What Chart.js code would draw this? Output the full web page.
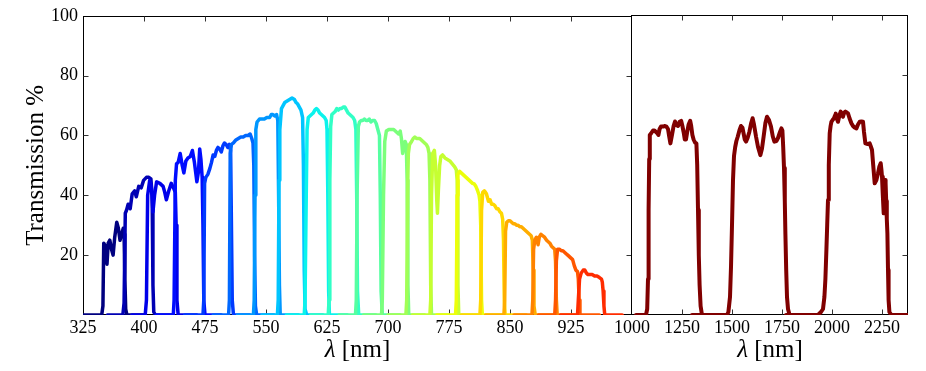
<!DOCTYPE html>
<html lang="en">
<head>
<meta charset="UTF-8">
<title>filters</title>
<script src="https://cdn.jsdelivr.net/npm/chart.js@4.4.0/dist/chart.umd.min.js"></script>
<style>
  body { margin: 0; background: #fff; }
  #wrap { position: relative; width: 926px; height: 371px; }
  canvas { position: absolute; top: 0; }
  #left { left: 0; }
  #right { left: 600px; }
</style>
</head>
<body>
<div id="wrap">
  <canvas id="left" width="650" height="371"></canvas>
  <canvas id="right" width="326" height="371"></canvas>
</div>
<script>
// transmission curves, [wavelength nm, transmission %]
const A366 = [[325,0],[348,0],[349.5,3],[350.5,24],[352.5,23],[354.5,17],[356,24],[358,25],[360,22],[362,20],[364,26],[366.5,31],[368.5,29],[370.5,25],[372.5,27],[374.5,29],[375.5,27],[376.5,12],[377.5,2],[379,0],[400,0]];
const A394 = [[355,0],[374,0],[375.5,4],[377,34],[378.5,35],[380.5,37],[383,35.5],[385.5,40.5],[388.5,41.5],[390.5,39.5],[393.5,43],[396.5,42.5],[399.5,45],[403,46],[406,46],[408.5,45.5],[410,40],[411,10],[412,1],[414,0],[435,0]];
const A425 = [[385,0],[401.5,0],[403,5],[404.5,40],[407,45],[409,43],[411,34.5],[413,40],[415.5,44.5],[419.5,44],[423.5,43],[425.5,41],[427.5,38.5],[430.5,41.5],[433.5,44],[437,42],[438.5,41],[439.5,30],[440.5,5],[442,0],[465,0]];
const A457 = [[415,0],[436,0],[437,5],[438.5,45],[440,50.5],[442,51],[444.5,54],[447,50],[449,47.5],[451.5,51.5],[454,52.5],[457,53],[459.5,55],[462,51],[465,44.5],[467,48],[468.5,55.5],[470,52],[471.5,46],[472.5,30],[473.5,5],[475,0],[495,0]];
const A491 = [[450,0],[472.5,0],[473.5,5],[474.5,44],[476,46],[478.5,47],[481,49],[483,51],[485,53.5],[487,53],[489,55],[491,56],[493,55.5],[495,54.5],[497,56.5],[499,57.5],[501,57],[503,56],[505,57],[506.5,55],[507.5,30],[508.5,5],[510,0],[530,0]];
const A522 = [[485,0],[504,0],[505,5],[506,54],[507.5,57],[510,57.5],[513,58.5],[516,59],[519,59.5],[522,59.5],[525,60],[528,60],[530.5,60.5],[532.5,59],[534,57.5],[535,50],[536,20],[537,3],[538.5,0],[560,0]];
const A551 = [[515,0],[534.5,0],[535.5,5],[536.5,40],[537.5,62],[539,64.5],[542,65.5],[545,65.5],[548,65.5],[551,66],[554.5,66],[556.5,67],[558.5,67],[561,66.5],[563,67],[564.5,65],[565.5,40],[566.5,10],[567.5,0],[590,0]];
const A581 = [[545,0],[564,0],[565,5],[566,45],[567,62],[569,69],[571,70],[573,71],[576,71.5],[579,72],[582,72.5],[585,72],[587,71],[589,70.5],[591,69.5],[593,68.5],[595,66],[596,50],[597,15],[598,2],[600,0],[620,0]];
const A613 = [[575,0],[597,0],[598,5],[599.5,40],[600.5,62],[602,66],[604,66.5],[606,67],[608,67.5],[610,68.5],[612,69],[614,68.5],[616,67.5],[618,67],[620,66.5],[622,66],[624,65],[625,62],[626,40],[627,8],[628,0],[650,0]];
const A646 = [[605,0],[626.5,0],[627.5,5],[628.5,45],[629.5,63],[631,67],[633,67.5],[635,68],[637,69],[639,68.5],[641,69],[643,69],[645,69.5],[647,69.5],[649,68.5],[651,67.5],[653,67],[655,66.5],[657,66],[659,65],[660.5,62],[661.5,40],[662.5,8],[664,0],[685,0]];
const A678 = [[640,0],[660,0],[661,5],[662,40],[663.5,63],[665,64.5],[667,65],[669,65],[671,65.5],[673,65],[675,65],[677,65.5],[679,64.5],[681,65],[683.5,65],[685.5,64],[687.5,62],[689.5,60],[690.5,40],[691.5,8],[693,0],[715,0]];
const A708 = [[670,0],[692,0],[693,5],[694.5,40],[696,58],[698,61.5],[701,62],[704,62],[707,62],[709,61.5],[711,61],[713,60.5],[715,61.5],[716.5,59],[718,54],[719.5,56],[721,58],[722.5,57],[723.5,45],[724.5,10],[725.5,0],[745,0]];
const A739 = [[700,0],[722,0],[723,5],[724,40],[725,54],[726.5,57],[729,58],[731,59],[733,59.5],[735,59],[737,59],[739,59],[741,58.5],[743,58],[745,57.5],[747,57],[749,56],[750.5,54],[751.5,45],[752.5,10],[753.5,0],[775,0]];
const A770 = [[730,0],[751.5,0],[752.5,5],[753.5,40],[755,54],[757,55],[758.5,50],[760,38],[760.8,34],[762,42],[763.5,50],[765,53],[767,53.5],[770,52.5],[773,52],[776,51.5],[779,50.5],[782,49.5],[784,48.5],[785,45],[786,10],[787,0],[810,0]];
const A802 = [[760,0],[783,0],[784,5],[785,40],[786,47],[788,48],[790,47.5],[792,47],[794,46.5],[796,46],[798,45.5],[800,45],[802,44.5],[804,44],[806,43.8],[808,43],[810,41.7],[812,40],[813,38],[814,30],[815,5],[816,0],[840,0]];
const A829 = [[790,0],[813,0],[814,5],[815,35],[816.5,41],[818.5,41.5],[821,40.5],[823.5,38],[825.5,38.5],[827.5,37],[829.5,37],[831.5,36.5],[833.5,35.5],[835.5,35.5],[837.5,34.5],[839.5,34],[841,32],[842,25],[843,5],[844,0],[870,0]];
const A861 = [[820,0],[842.5,0],[843.5,5],[844.5,28],[846,31],[848,31.5],[850,31.5],[852,31],[854,30.5],[856,30.5],[858,30],[860,30],[862,29.5],[864,29.5],[866,29],[868,28.5],[870,28],[872,27.5],[874,27],[876,26.5],[877.5,25],[878.5,15],[879.5,3],[881,0],[905,0]];
const A892 = [[855,0],[877,0],[878,5],[879,22],[880.5,25],[882.5,26],[884.5,23.5],[886,26],[888,27],[890,26.5],[892.5,26],[895,25],[897,24.5],[899,24],[901,23],[903,22.5],[905,22],[906,18],[907,5],[908,0],[930,0]];
const A921 = [[885,0],[905,0],[906,5],[907,18],[908.5,22],[911,22],[913,21.5],[915,21.5],[917,21],[919,20.5],[921,20],[923,19.5],[925,19],[927,18.5],[929,16.5],[931,15],[933,14.5],[934,12],[935,5],[936,0],[960,0]];
const A948 = [[912,0],[933,0],[934,5],[935.5,12],[937.5,14],[940,15],[942,15],[944,14],[946,13.5],[948,13.5],[951,13.5],[954,13],[957,13],[960,12.5],[962.5,12],[963.5,11],[964.5,8],[965.5,3],[966.5,0],[988,0]];

const J = [[1020,0],[1070,0],[1076,2],[1080,12],[1083,35],[1086,52],[1089,60],[1095,60.5],[1105,61.5],[1112,61.5],[1120,61],[1127,60.5],[1132,60],[1138,62],[1145,62.8],[1155,62.8],[1165,63],[1172,62.8],[1180,62],[1186,59.5],[1192,57.2],[1200,60],[1208,63],[1215,64.5],[1222,63.3],[1230,63],[1238,64.4],[1246,64.7],[1252,63],[1258,61],[1264,58.5],[1270,58.5],[1276,61],[1283,63.5],[1291,64.7],[1296,63],[1302,60],[1308,58.5],[1315,57.5],[1322,57.2],[1326,50],[1330,35],[1334,20],[1338,10],[1343,3],[1350,0],[1410,0]];
const H = [[1300,0],[1475,0],[1482,1],[1490,6],[1495,16],[1500,30],[1505,45],[1510,53],[1516,56],[1522,58],[1529,59.5],[1537,61.5],[1545,63],[1552,62.5],[1558,60.5],[1564,58.5],[1570,57.8],[1578,59],[1587,61.1],[1596,64],[1603,65.6],[1610,63.5],[1620,59.5],[1630,56],[1642,53.3],[1650,55.5],[1658,59.4],[1667,64],[1675,66.1],[1685,65],[1695,62.8],[1704,59.5],[1712,57.8],[1722,58],[1730,59],[1740,61],[1747,62.2],[1752,61.5],[1756,56],[1760,49],[1764,38],[1767,27],[1771,15],[1775,6],[1780,2],[1788,0],[1850,0]];
const Ks = [[1770,0],[1930,0],[1945,1],[1955,2],[1962,6],[1967,12],[1972,21.7],[1976,30],[1980,38.3],[1984,50],[1988.5,60.6],[1993,63],[1997,64.4],[2003,65],[2010,65.6],[2015,66.5],[2018.5,67.2],[2024,65.5],[2030,64.4],[2037,66.5],[2043.5,67.8],[2050,66.5],[2055,66.1],[2061,67.5],[2067,67.8],[2074,67.5],[2080,67.2],[2088,65.5],[2097,63.9],[2105,63],[2113,62.5],[2122,62.2],[2130,63.5],[2138.5,64.4],[2147,64.5],[2155,64.4],[2160,61],[2167,57.2],[2178,57],[2188.5,57.2],[2195,56],[2200,55],[2206,50],[2213.5,43.9],[2222,45],[2230,47.2],[2237,49.5],[2243.5,50.6],[2247,48.5],[2250,46.1],[2254,40],[2258.5,33.9],[2262,40],[2265,45],[2268,44],[2271,38],[2274,32],[2277,27.2],[2280,15],[2283,5],[2287,1],[2297,0],[2380,0]];

const opticalFilters = [A366, A394, A425, A457, A491, A522, A551, A581, A613, A646,
                        A678, A708, A739, A770, A802, A829, A861, A892, A921, A948];
const nirFilters = [J, H, Ks];

const leftXTicks = [325, 400, 475, 550, 625, 700, 775, 850, 925];
const rightXTicks = [1000, 1250, 1500, 1750, 2000, 2250];
const yTicks = [20, 40, 60, 80, 100];

// matplotlib 'jet'
function jet(t) {
  const seg = pts => {
    for (let i = 1; i < pts.length; i++) {
      if (t <= pts[i][0]) {
        const [x0, y0] = pts[i - 1], [x1, y1] = pts[i];
        return y0 + (y1 - y0) * (t - x0) / (x1 - x0);
      }
    }
    return pts[pts.length - 1][1];
  };
  const r = seg([[0,0],[0.35,0],[0.66,1],[0.89,1],[1,0.5]]);
  const g = seg([[0,0],[0.125,0],[0.375,1],[0.64,1],[0.91,0],[1,0]]);
  const b = seg([[0,0.5],[0.11,1],[0.34,1],[0.65,0],[1,0]]);
  return 'rgb(' + Math.round(r * 255) + ',' + Math.round(g * 255) + ',' + Math.round(b * 255) + ')';
}

const serif = 'Liberation Serif';

// box with inward tick marks, like matplotlib; x label with italic lambda
const frame = {
  id: 'frame',
  beforeDatasetsDraw(chart, args, opts) {
    const {ctx, chartArea: a, scales: {x, y}} = chart;
    const L = Math.round(a.left) + (opts.leftSide ? 0.5 : -0.5), R = Math.round(a.right) - 0.5;
    const T = Math.round(a.top) + 0.5, B = Math.round(a.bottom) - 0.5;
    ctx.save();
    ctx.lineWidth = 1;
    ctx.strokeStyle = '#000';
    ctx.strokeRect(L, T, R - L, B - T);
    ctx.strokeStyle = '#333';
    ctx.beginPath();
    opts.xt.forEach(v => {
      const px = Math.round(x.getPixelForValue(v)) + 0.5;
      ctx.moveTo(px, B); ctx.lineTo(px, B - 5);
      ctx.moveTo(px, T); ctx.lineTo(px, T + 5);
    });
    [20, 40, 60, 80].forEach(v => {
      const py = Math.round(y.getPixelForValue(v)) + 0.5;
      if (opts.leftSide) { ctx.moveTo(L, py); ctx.lineTo(L + 5, py); }
      ctx.moveTo(R, py); ctx.lineTo(R - 5, py);
    });
    ctx.stroke();
    ctx.restore();
  },
  afterDraw(chart) {
    const {ctx, chartArea: a} = chart;
    ctx.save();
    ctx.fillStyle = '#000';
    ctx.textBaseline = 'alphabetic';
    ctx.font = 'italic 25px "' + serif + '"';
    const w1 = ctx.measureText('λ').width;
    ctx.font = '25px "' + serif + '"';
    const w2 = ctx.measureText(' [nm]').width;
    const cx = (a.left + a.right) / 2 - (w1 + w2) / 2;
    ctx.font = 'italic 25px "' + serif + '"';
    ctx.fillText('λ', cx, 357);
    ctx.font = '25px "' + serif + '"';
    ctx.fillText(' [nm]', cx + w1, 357);
    ctx.restore();
  }
};

function lineSet(data, color, i, width) {
  return {
    data: data, borderColor: color, borderWidth: width, pointRadius: 0,
    tension: 0, fill: false, borderJoinStyle: 'round', borderCapStyle: 'round', order: -i
  };
}

new Chart(document.getElementById('left'), {
  type: 'line',
  data: {
    datasets: opticalFilters.map((f, i) => lineSet(f, jet(i / 22), i, 3.5))
  },
  options: {
    responsive: false, animation: false, devicePixelRatio: 1,
    layout: {padding: {left: 0, right: 18, top: 15, bottom: 0}},
    plugins: {legend: {display: false}, tooltip: {enabled: false}, frame: {xt: leftXTicks.slice(1), leftSide: true}},
    scales: {
      x: {
        type: 'linear', min: 325, max: 1000,
        afterBuildTicks: s => { s.ticks = leftXTicks.map(v => ({value: v})); },
        afterFit: s => { s.height = 56; },
        grid: {display: false, drawTicks: false},
        border: {display: false},
        ticks: {color: '#000', padding: 2, font: {family: serif, size: 18}, maxRotation: 0, callback: v => String(v)}
      },
      y: {
        min: 0, max: 100,
        afterBuildTicks: s => { s.ticks = yTicks.map(v => ({value: v})); },
        afterFit: s => { s.width = 83; },
        grid: {display: false, drawTicks: false},
        border: {display: false},
        ticks: {color: '#000', padding: 5, font: {family: serif, size: 18}, callback: v => String(v)},
        title: {display: true, text: 'Transmission %', color: '#000', font: {family: serif, size: 25}, padding: {top: 21, bottom: 0}}
      }
    }
  },
  plugins: [frame]
});

new Chart(document.getElementById('right'), {
  type: 'line',
  data: {
    datasets: nirFilters.map((f, i) => lineSet(f, jet(1), i, 4))
  },
  options: {
    responsive: false, animation: false, devicePixelRatio: 1,
    layout: {padding: {left: 32, right: 18, top: 15, bottom: 0}},
    plugins: {legend: {display: false}, tooltip: {enabled: false}, frame: {xt: rightXTicks.slice(1), leftSide: false}},
    scales: {
      x: {
        type: 'linear', min: 1000, max: 2380,
        afterBuildTicks: s => { s.ticks = rightXTicks.map(v => ({value: v})); },
        afterFit: s => { s.height = 56; },
        grid: {display: false, drawTicks: false},
        border: {display: false},
        ticks: {color: '#000', padding: 2, font: {family: serif, size: 18}, maxRotation: 0, callback: v => String(v)}
      },
      y: {min: 0, max: 100, display: false}
    }
  },
  plugins: [frame]
});
</script>
</body>
</html>
